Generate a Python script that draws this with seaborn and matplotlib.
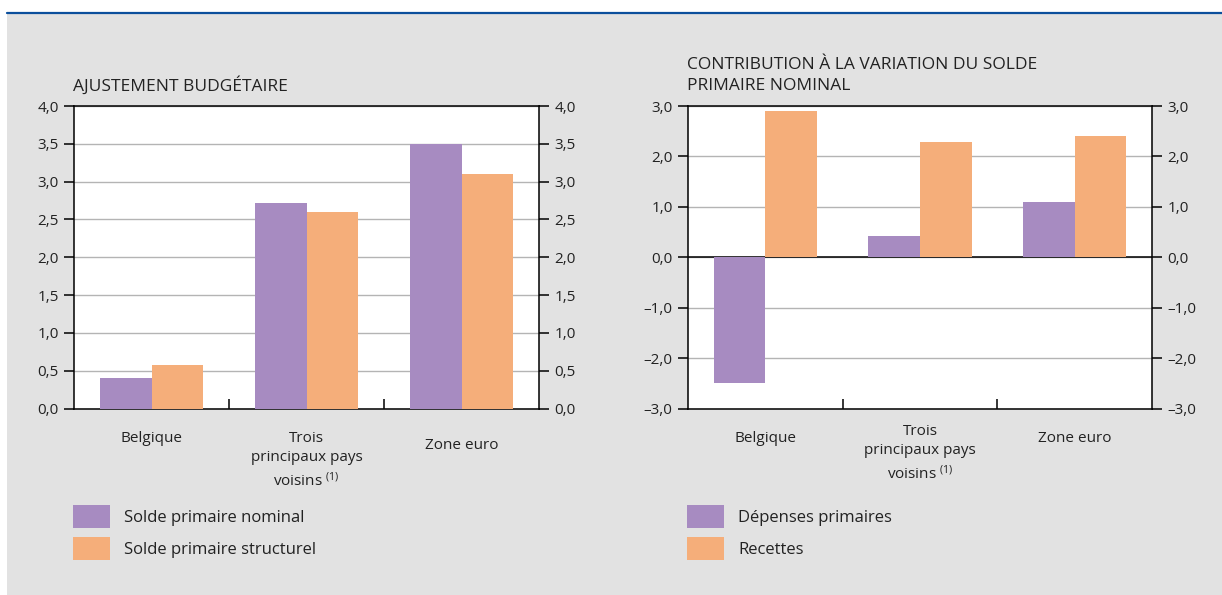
import matplotlib
matplotlib.use("Agg")
import matplotlib.pyplot as plt
import numpy as np
import pandas as pd
import seaborn as sns
from matplotlib.patches import Rectangle
from matplotlib.lines import Line2D
from matplotlib.ticker import FixedLocator, FuncFormatter

# ---- data -------------------------------------------------------------
categories = ["Belgique", "Trois principaux pays voisins", "Zone euro"]
category_labels = ["Belgique", "Trois\nprincipaux pays\nvoisins $^{(1)}$", "Zone euro"]

left_title = "AJUSTEMENT BUDGÉTAIRE"
left_series = ["Solde primaire nominal", "Solde primaire structurel"]
solde_nominal = [0.4, 2.72, 3.5]
solde_structurel = [0.58, 2.6, 3.1]
left_ticks = [0.0, 0.5, 1.0, 1.5, 2.0, 2.5, 3.0, 3.5, 4.0]

right_title = ["CONTRIBUTION À LA VARIATION DU SOLDE", "PRIMAIRE NOMINAL"]
right_series = ["Dépenses primaires", "Recettes"]
depenses = [-2.5, 0.42, 1.1]
recettes = [2.9, 2.29, 2.41]
right_ticks = [-3.0, -2.0, -1.0, 0.0, 1.0, 2.0, 3.0]

PURPLE = "#a78bc1"
ORANGE = "#f5ae7a"
PANEL = "#e2e2e2"
BLUE = "#0b4f9c"
INK = "#222222"

sns.set_theme(style="white")
plt.rcParams["font.family"] = ["Open Sans", "DejaVu Sans"]
plt.rcParams["mathtext.fontset"] = "custom"
plt.rcParams["mathtext.rm"] = "Open Sans"
plt.rcParams["mathtext.default"] = "regular"

W, H = 1222, 595
fig = plt.figure(figsize=(W / 100, H / 100), dpi=100)
fig.patch.set_facecolor("white")


def box(x0, top, w, h):
    return [x0 / W, 1 - (top + h) / H, w / W, h / H]


# grey panel and blue rule at the top
fig.patches.append(Rectangle((7 / W, 0), 1 - 7 / W, 1 - 14 / H,
                             transform=fig.transFigure, facecolor=PANEL,
                             edgecolor="none", zorder=-10))
fig.lines.append(Line2D([7 / W, 1], [1 - 13 / H, 1 - 13 / H],
                        transform=fig.transFigure, color=BLUE, lw=1.6))


def fmt(v, _pos=None):
    s = f"{v:.1f}".replace(".", ",")
    if v < 0:
        s = "\u2013" + s[1:]
    return s


def long_frame(series, values):
    rows = []
    for name, vals in zip(series, values):
        for cat, v in zip(categories, vals):
            rows.append({"pays": cat, "serie": name, "valeur": v})
    return pd.DataFrame(rows)


def draw(ax, series, values, ticks, label_offsets, zero_line):
    df = long_frame(series, values)
    sns.barplot(data=df, x="pays", y="valeur", hue="serie", order=categories,
                hue_order=series, palette=[PURPLE, ORANGE], width=0.667,
                gap=0, saturation=1, linewidth=0, errorbar=None,
                legend=False, ax=ax, zorder=3)
    ax.set_facecolor("white")
    ax.set_xlim(-0.5, len(categories) - 0.5)
    ax.set_ylim(ticks[0], ticks[-1])
    ax.set_xlabel("")
    ax.set_ylabel("")
    ax.yaxis.set_major_locator(FixedLocator(ticks))
    ax.yaxis.set_major_formatter(FuncFormatter(fmt))
    ax.grid(axis="y", color="#b4b4b4", lw=1.0)
    ax.set_axisbelow(True)
    if zero_line:
        ax.axhline(0, color="black", lw=1.1, zorder=2)
    for sp in ax.spines.values():
        sp.set_visible(True)
        sp.set_color("black")
        sp.set_linewidth(1.1)
    ax.tick_params(axis="y", which="major", left=True, right=True,
                   labelleft=True, labelright=True, direction="out",
                   length=7, width=1.1, color="black", pad=4,
                   labelsize=11, labelcolor=INK)
    ax.set_xticks([0.5, 1.5])
    ax.set_xticklabels([])
    ax.tick_params(axis="x", which="major", bottom=True, direction="in",
                   length=7, width=1.1, color="black")
    for i, (lab, off) in enumerate(zip(category_labels, label_offsets)):
        ax.annotate(lab, xy=(i, 0), xycoords=("data", "axes fraction"),
                    xytext=(0, -off), textcoords="offset points",
                    ha="center", va="top", fontsize=11, color=INK,
                    linespacing=1.4, annotation_clip=False)
    return ax


axL = fig.add_axes(box(74, 106, 465, 302.5))
draw(axL, left_series, [solde_nominal, solde_structurel], left_ticks,
     [16, 16, 21], zero_line=False)

axR = fig.add_axes(box(688, 106, 464, 302.5))
draw(axR, right_series, [depenses, recettes], right_ticks,
     [16, 11, 16], zero_line=True)

# chart titles
fig.text(73 / W, 1 - 91 / H, left_title, fontsize=12.5, color=INK,
         va="baseline", ha="left")
fig.text(687 / W, 1 - 69 / H, right_title[0], fontsize=12.5, color=INK,
         va="baseline", ha="left")
fig.text(687 / W, 1 - 90 / H, right_title[1], fontsize=12.5, color=INK,
         va="baseline", ha="left")

# legends built from the bar containers
for ax, series, x0 in [(axL, left_series, 73), (axR, right_series, 687)]:
    handles = [ax.containers[0], ax.containers[1]]
    fig.legend(handles, series, loc="upper left",
               bbox_to_anchor=(x0 / W, 1 - 505 / H),
               bbox_transform=fig.transFigure, frameon=False,
               fontsize=12, handlelength=2.22, handleheight=1.75,
               handletextpad=0.84, labelspacing=0.54, borderpad=0,
               borderaxespad=0, labelcolor=INK)

fig.savefig("out.png", dpi=100, facecolor=fig.get_facecolor())
